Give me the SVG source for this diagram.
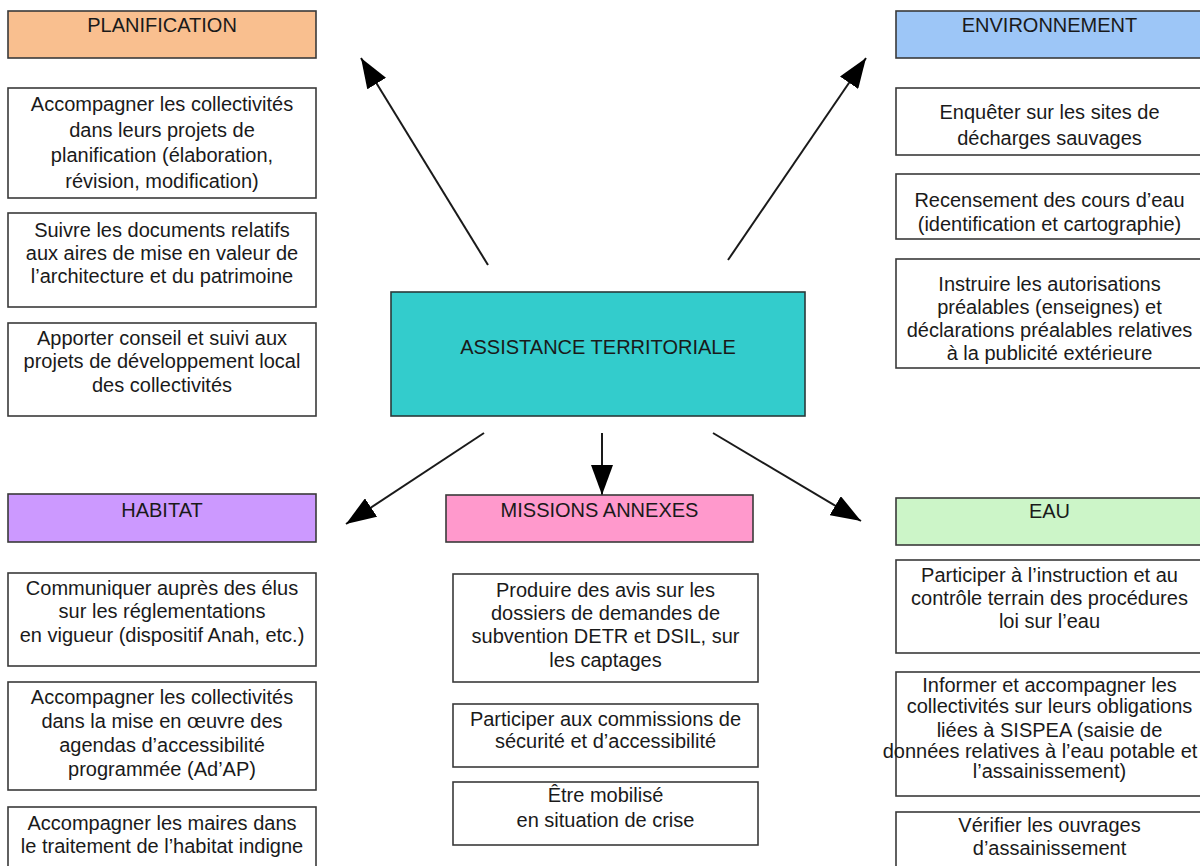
<svg xmlns="http://www.w3.org/2000/svg" width="1200" height="866" viewBox="0 0 1200 866">
<style>
  .box { fill: #ffffff; stroke: #3a3a3a; stroke-width: 1.6; }
  .hdr { stroke: #3a3a3a; stroke-width: 1.6; }
  text { font-family: "Liberation Sans", Arial, sans-serif; font-size: 20px; fill: #1a1a1a; text-anchor: middle; }
  .conn { stroke: #1a1a1a; stroke-width: 2; fill: none; marker-end: url(#ah); }
</style>
<defs>
  <marker id="ah" markerUnits="userSpaceOnUse" markerWidth="30" markerHeight="22" refX="30" refY="11" orient="auto">
    <path d="M0,0 L30,11 L0,22 z" fill="#000"/>
  </marker>
</defs>
<rect width="1200" height="866" fill="#ffffff"/>

<g id="connectors">
  <line class="conn" x1="488" y1="265" x2="361" y2="58"/>
  <line class="conn" x1="728" y1="260" x2="866" y2="58"/>
  <line class="conn" x1="484" y1="433" x2="346" y2="524"/>
  <line class="conn" x1="602" y1="433" x2="602" y2="495"/>
  <line class="conn" x1="713" y1="433" x2="861" y2="521"/>
</g>

<g id="center">
  <rect x="391" y="292" width="414" height="124" fill="#33CCCC" stroke="#2a3a3a" stroke-width="1.6"/>
  <text x="598" y="354">ASSISTANCE TERRITORIALE</text>
</g>

<g id="planification">
  <rect class="hdr" x="8" y="11" width="308" height="47" fill="#F9BF8F"/>
  <text x="162" y="32">PLANIFICATION</text>
</g>
<g id="planif-1">
  <rect class="box" x="8" y="88" width="308" height="110"/>
  <text x="162" y="111">Accompagner les collectivités</text>
  <text x="162" y="136.5">dans leurs projets de</text>
  <text x="162" y="162">planification (élaboration,</text>
  <text x="162" y="187.5">révision, modification)</text>
</g>
<g id="planif-2">
  <rect class="box" x="8" y="213" width="308" height="94"/>
  <text x="162" y="237">Suivre les documents relatifs</text>
  <text x="162" y="260">aux aires de mise en valeur de</text>
  <text x="162" y="283">l’architecture et du patrimoine</text>
</g>
<g id="planif-3">
  <rect class="box" x="8" y="323" width="308" height="93"/>
  <text x="162" y="345">Apporter conseil et suivi aux</text>
  <text x="162" y="368">projets de développement local</text>
  <text x="162" y="392">des collectivités</text>
</g>

<g id="environnement">
  <rect class="hdr" x="896" y="11" width="307" height="47" fill="#9DC6F7"/>
  <text x="1049.5" y="32">ENVIRONNEMENT</text>
</g>
<g id="env-1">
  <rect class="box" x="896" y="88" width="307" height="67"/>
  <text x="1049.5" y="119">Enquêter sur les sites de</text>
  <text x="1049.5" y="145">décharges sauvages</text>
</g>
<g id="env-2">
  <rect class="box" x="896" y="174" width="307" height="65"/>
  <text x="1049.5" y="206.5">Recensement des cours d’eau</text>
  <text x="1049.5" y="231">(identification et cartographie)</text>
</g>
<g id="env-3">
  <rect class="box" x="896" y="259" width="307" height="109"/>
  <text x="1049.5" y="291">Instruire les autorisations</text>
  <text x="1049.5" y="314">préalables (enseignes) et</text>
  <text x="1049.5" y="337">déclarations préalables relatives</text>
  <text x="1049.5" y="360">à la publicité extérieure</text>
</g>

<g id="habitat">
  <rect class="hdr" x="8" y="494" width="308" height="48" fill="#CC99FF"/>
  <text x="162" y="517">HABITAT</text>
</g>
<g id="habitat-1">
  <rect class="box" x="8" y="573" width="308" height="93"/>
  <text x="162" y="595">Communiquer auprès des élus</text>
  <text x="162" y="618">sur les réglementations</text>
  <text x="162" y="642">en vigueur (dispositif Anah, etc.)</text>
</g>
<g id="habitat-2">
  <rect class="box" x="8" y="682" width="308" height="108"/>
  <text x="162" y="704">Accompagner les collectivités</text>
  <text x="162" y="728">dans la mise en œuvre des</text>
  <text x="162" y="752">agendas d’accessibilité</text>
  <text x="162" y="776">programmée (Ad’AP)</text>
</g>
<g id="habitat-3">
  <rect class="box" x="8" y="807" width="308" height="70"/>
  <text x="162" y="830">Accompagner les maires dans</text>
  <text x="162" y="853">le traitement de l’habitat indigne</text>
</g>

<g id="missions">
  <rect class="hdr" x="446" y="495" width="307" height="47" fill="#FF99CC"/>
  <text x="599.5" y="517">MISSIONS ANNEXES</text>
</g>
<g id="missions-1">
  <rect class="box" x="453" y="574" width="305" height="108"/>
  <text x="605.5" y="597">Produire des avis sur les</text>
  <text x="605.5" y="620">dossiers de demandes de</text>
  <text x="605.5" y="643">subvention DETR et DSIL, sur</text>
  <text x="605.5" y="667">les captages</text>
</g>
<g id="missions-2">
  <rect class="box" x="453" y="704" width="305" height="63"/>
  <text x="605.5" y="726">Participer aux commissions de</text>
  <text x="605.5" y="748">sécurité et d’accessibilité</text>
</g>
<g id="missions-3">
  <rect class="box" x="453" y="782" width="305" height="63"/>
  <text x="605.5" y="802">Être mobilisé</text>
  <text x="605.5" y="827">en situation de crise</text>
</g>

<g id="eau">
  <rect class="hdr" x="896" y="498" width="307" height="47" fill="#CCF5C8"/>
  <text x="1049.5" y="518">EAU</text>
</g>
<g id="eau-1">
  <rect class="box" x="896" y="560" width="307" height="93"/>
  <text x="1049.5" y="582">Participer à l’instruction et au</text>
  <text x="1049.5" y="605">contrôle terrain des procédures</text>
  <text x="1049.5" y="628">loi sur l’eau</text>
</g>
<g id="eau-2">
  <rect class="box" x="896" y="672" width="307" height="124"/>
  <text x="1049.5" y="692">Informer et accompagner les</text>
  <text x="1049.5" y="713">collectivités sur leurs obligations</text>
  <text x="1049.5" y="737">liées à SISPEA (saisie de</text>
  <text x="1040" y="758">données relatives à l’eau potable et</text>
  <text x="1049.5" y="778">l’assainissement)</text>
</g>
<g id="eau-3">
  <rect class="box" x="896" y="812" width="307" height="70"/>
  <text x="1049.5" y="832">Vérifier les ouvrages</text>
  <text x="1049.5" y="855">d’assainissement</text>
</g>
</svg>
